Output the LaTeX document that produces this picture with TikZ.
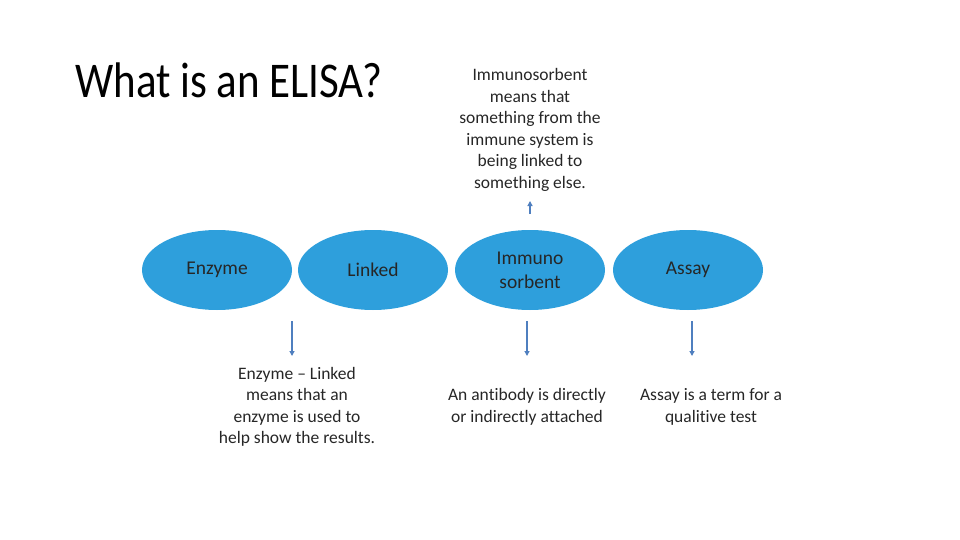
\documentclass[tikz,border=0pt]{standalone}
\usepackage{fontspec}
\setmainfont[Ligatures={NoCommon}]{Carlito}
\usetikzlibrary{shapes.geometric,arrows.meta}
\definecolor{ell}{HTML}{2E9FDC}
\definecolor{arr}{HTML}{4F7FBF}
\begin{document}
\begin{tikzpicture}[x=1pt,y=-1pt,
  el/.style={ellipse,fill=ell,minimum width=150pt,minimum height=80pt,inner sep=0pt,align=center,font=\fontsize{19.5}{24}\selectfont,text=black!85},
  tx/.style={align=center,font=\fontsize{17.5}{21.5}\selectfont,text=black!85},
  ar/.style={draw=arr,line width=1.2pt,-{Triangle[length=5pt,width=5pt]}}]
\useasboundingbox (0,0) rectangle (960,540);
\node[anchor=west,inner sep=0pt] (title) at (75,80) {\scalebox{0.86}[1]{\fontsize{50}{54}\selectfont What is an ELISA?}};
\node[el] (enz) at (217,270) {Enzyme};
\node[el] (lnk) at (373,270) {Linked};
\node[el] (imm) at (530,270) {Immuno\\sorbent};
\node[el] (ass) at (688,270) {Assay};
\node[tx] (timm) at (530,130) {Immunosorbent\\means that\\something from the\\immune system is\\being linked to\\something else.};
\node[tx] (tlnk) at (297,407) {Enzyme -- Linked\\means that an\\enzyme is used to\\help show the results.};
\node[tx] (tsor) at (527,407) {An antibody is directly\\or indirectly attached};
\node[tx] (tass) at (711,407) {Assay is a term for a\\qualitive test};
\coordinate (u1) at (530,214); \coordinate (u2) at (530,201);
\draw[ar] (u1) -- (u2);
\coordinate (a1) at (292,321); \coordinate (a2) at (292,356);
\draw[ar] (a1) -- (a2);
\coordinate (b1) at (527,321); \coordinate (b2) at (527,356);
\draw[ar] (b1) -- (b2);
\coordinate (c1) at (692,321); \coordinate (c2) at (692,356);
\draw[ar] (c1) -- (c2);
\end{tikzpicture}
\end{document}
